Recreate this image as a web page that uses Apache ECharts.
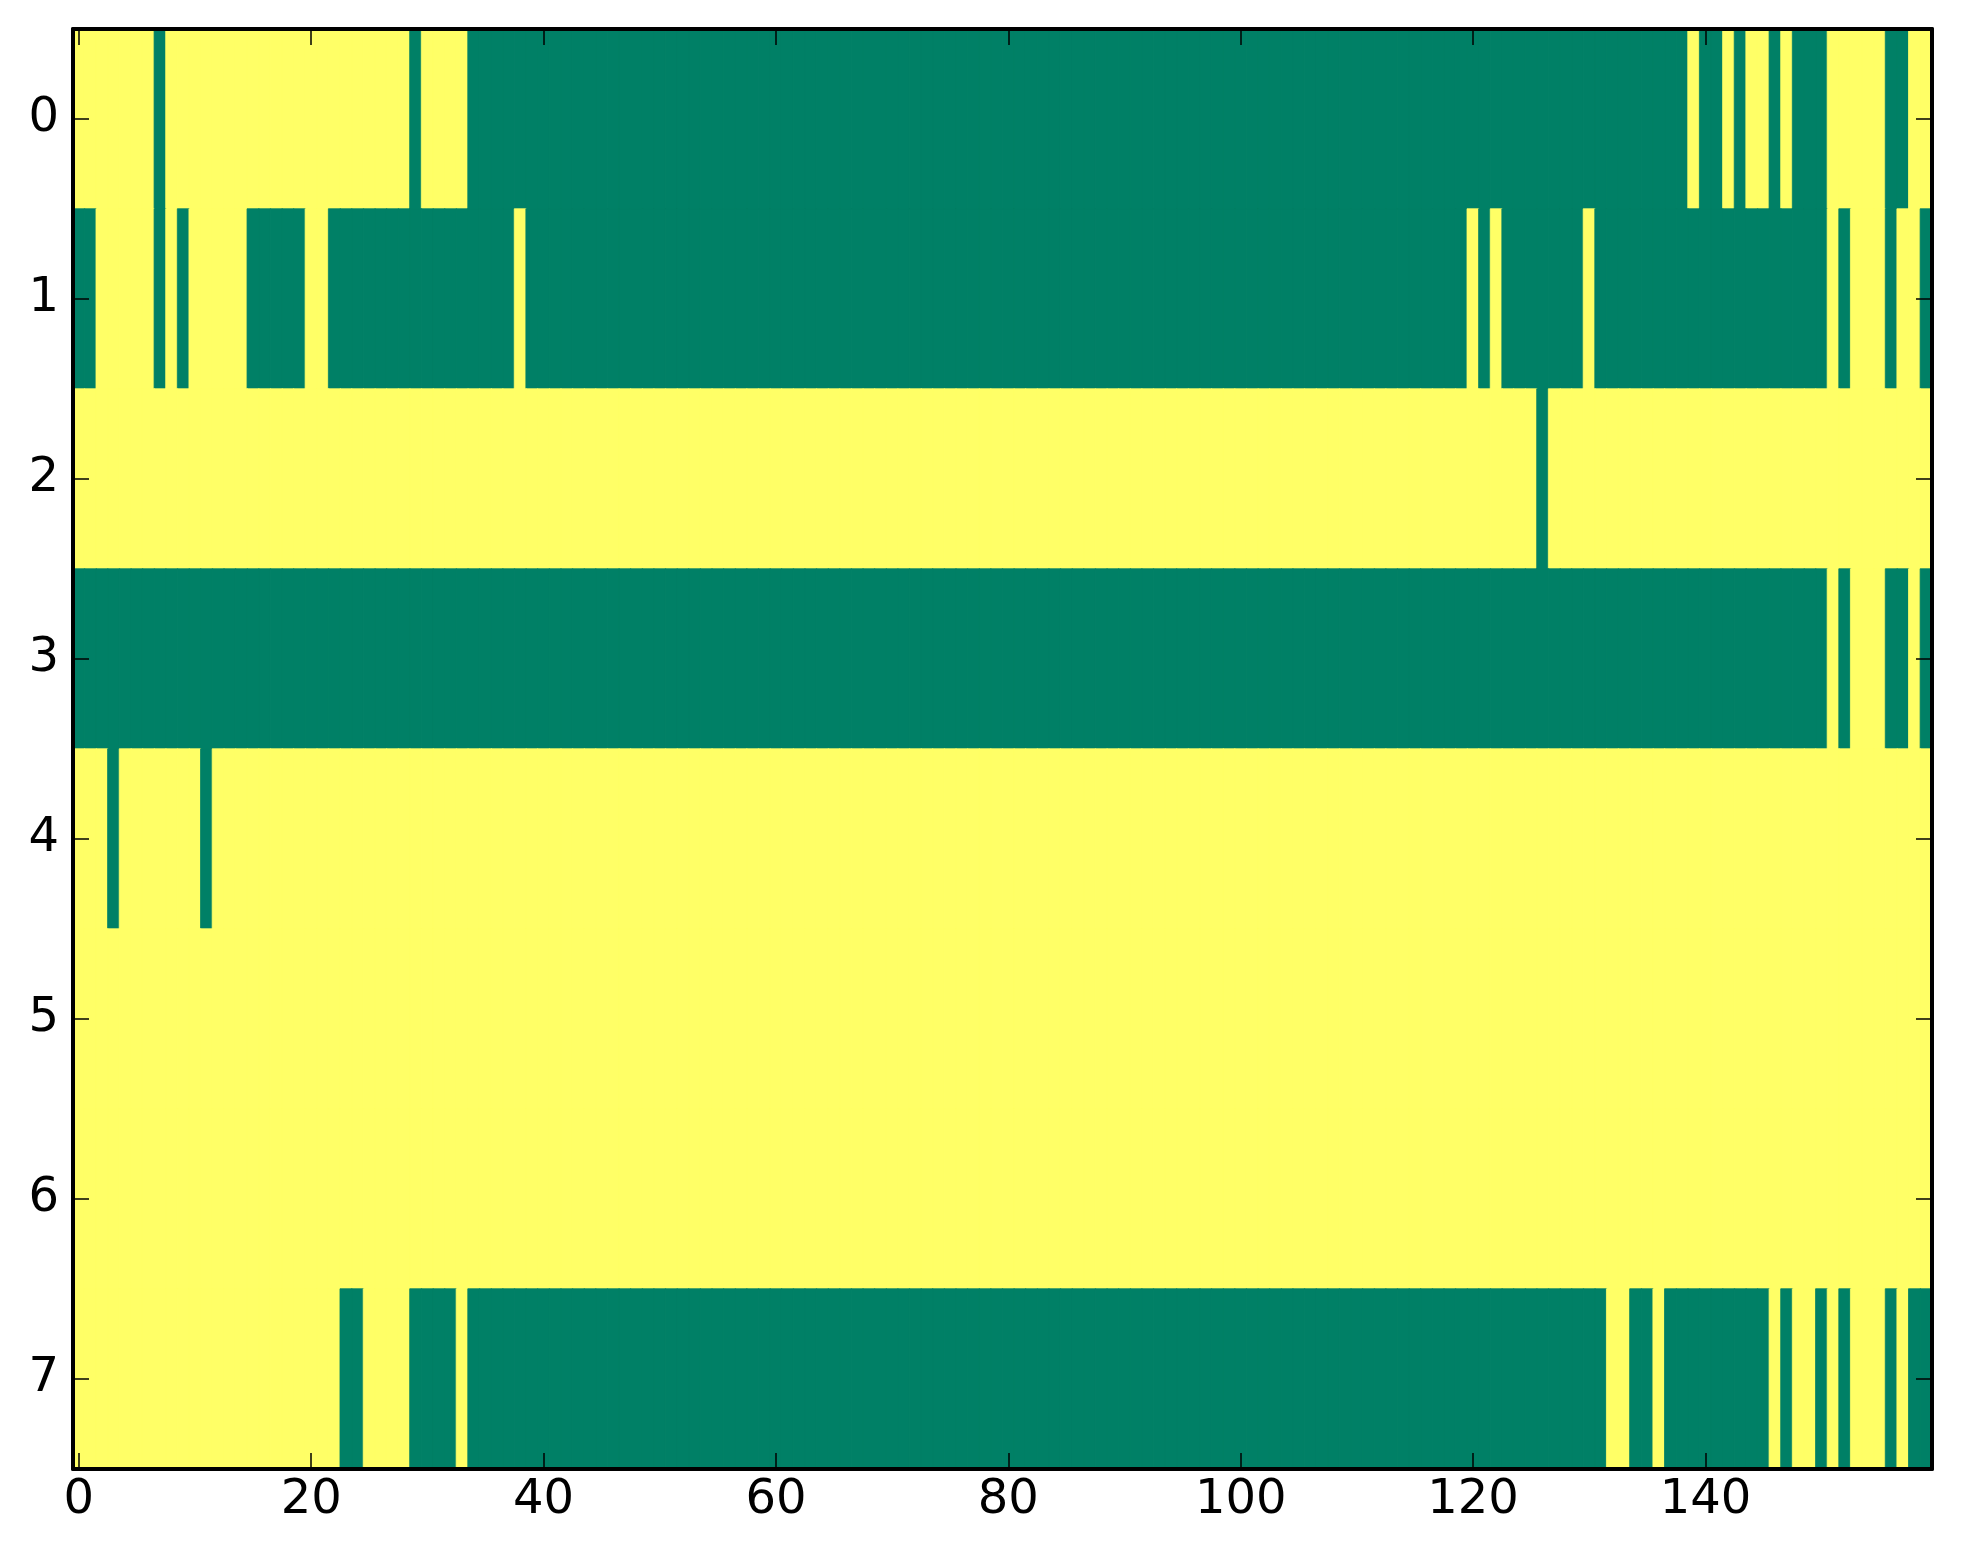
<!DOCTYPE html>
<html>
<head>
<meta charset="utf-8">
<script src="https://cdn.jsdelivr.net/npm/echarts@6/dist/echarts.min.js"></script>
<style>
  html, body { margin: 0; padding: 0; background: #fff; }
  #chart { width: 1963px; height: 1564px; }
</style>
</head>
<body>
<div id="chart"></div>
<script>
// 1 = yellow, 0 = green ; 160 columns per row
var row0 = [1,1,1,1,1,1,1,0,1,1, 1,1,1,1,1,1,1,1,1,1, 1,1,1,1,1,1,1,1,1,0, 1,1,1,1,0,0,0,0,0,0,
            0,0,0,0,0,0,0,0,0,0, 0,0,0,0,0,0,0,0,0,0, 0,0,0,0,0,0,0,0,0,0, 0,0,0,0,0,0,0,0,0,0,
            0,0,0,0,0,0,0,0,0,0, 0,0,0,0,0,0,0,0,0,0, 0,0,0,0,0,0,0,0,0,0, 0,0,0,0,0,0,0,0,0,0,
            0,0,0,0,0,0,0,0,0,0, 0,0,0,0,0,0,0,0,0,1, 0,0,1,0,1,1,0,1,0,0, 0,1,1,1,1,1,0,0,1,1];
var row1 = [0,0,1,1,1,1,1,0,1,0, 1,1,1,1,1,0,0,0,0,0, 1,1,0,0,0,0,0,0,0,0, 0,0,0,0,0,0,0,0,1,0,
            0,0,0,0,0,0,0,0,0,0, 0,0,0,0,0,0,0,0,0,0, 0,0,0,0,0,0,0,0,0,0, 0,0,0,0,0,0,0,0,0,0,
            0,0,0,0,0,0,0,0,0,0, 0,0,0,0,0,0,0,0,0,0, 0,0,0,0,0,0,0,0,0,0, 0,0,0,0,0,0,0,0,0,0,
            1,0,1,0,0,0,0,0,0,0, 1,0,0,0,0,0,0,0,0,0, 0,0,0,0,0,0,0,0,0,0, 0,1,0,1,1,1,0,1,1,0];
var row2 = [1,1,1,1,1,1,1,1,1,1, 1,1,1,1,1,1,1,1,1,1, 1,1,1,1,1,1,1,1,1,1, 1,1,1,1,1,1,1,1,1,1,
            1,1,1,1,1,1,1,1,1,1, 1,1,1,1,1,1,1,1,1,1, 1,1,1,1,1,1,1,1,1,1, 1,1,1,1,1,1,1,1,1,1,
            1,1,1,1,1,1,1,1,1,1, 1,1,1,1,1,1,1,1,1,1, 1,1,1,1,1,1,1,1,1,1, 1,1,1,1,1,1,1,1,1,1,
            1,1,1,1,1,1,0,1,1,1, 1,1,1,1,1,1,1,1,1,1, 1,1,1,1,1,1,1,1,1,1, 1,1,1,1,1,1,1,1,1,1];
var row3 = [0,0,0,0,0,0,0,0,0,0, 0,0,0,0,0,0,0,0,0,0, 0,0,0,0,0,0,0,0,0,0, 0,0,0,0,0,0,0,0,0,0,
            0,0,0,0,0,0,0,0,0,0, 0,0,0,0,0,0,0,0,0,0, 0,0,0,0,0,0,0,0,0,0, 0,0,0,0,0,0,0,0,0,0,
            0,0,0,0,0,0,0,0,0,0, 0,0,0,0,0,0,0,0,0,0, 0,0,0,0,0,0,0,0,0,0, 0,0,0,0,0,0,0,0,0,0,
            0,0,0,0,0,0,0,0,0,0, 0,0,0,0,0,0,0,0,0,0, 0,0,0,0,0,0,0,0,0,0, 0,1,0,1,1,1,0,0,1,0];
var row4 = [1,1,1,0,1,1,1,1,1,1, 1,0,1,1,1,1,1,1,1,1, 1,1,1,1,1,1,1,1,1,1, 1,1,1,1,1,1,1,1,1,1,
            1,1,1,1,1,1,1,1,1,1, 1,1,1,1,1,1,1,1,1,1, 1,1,1,1,1,1,1,1,1,1, 1,1,1,1,1,1,1,1,1,1,
            1,1,1,1,1,1,1,1,1,1, 1,1,1,1,1,1,1,1,1,1, 1,1,1,1,1,1,1,1,1,1, 1,1,1,1,1,1,1,1,1,1,
            1,1,1,1,1,1,1,1,1,1, 1,1,1,1,1,1,1,1,1,1, 1,1,1,1,1,1,1,1,1,1, 1,1,1,1,1,1,1,1,1,1];
var row5 = [1,1,1,1,1,1,1,1,1,1, 1,1,1,1,1,1,1,1,1,1, 1,1,1,1,1,1,1,1,1,1, 1,1,1,1,1,1,1,1,1,1,
            1,1,1,1,1,1,1,1,1,1, 1,1,1,1,1,1,1,1,1,1, 1,1,1,1,1,1,1,1,1,1, 1,1,1,1,1,1,1,1,1,1,
            1,1,1,1,1,1,1,1,1,1, 1,1,1,1,1,1,1,1,1,1, 1,1,1,1,1,1,1,1,1,1, 1,1,1,1,1,1,1,1,1,1,
            1,1,1,1,1,1,1,1,1,1, 1,1,1,1,1,1,1,1,1,1, 1,1,1,1,1,1,1,1,1,1, 1,1,1,1,1,1,1,1,1,1];
var row6 = [1,1,1,1,1,1,1,1,1,1, 1,1,1,1,1,1,1,1,1,1, 1,1,1,1,1,1,1,1,1,1, 1,1,1,1,1,1,1,1,1,1,
            1,1,1,1,1,1,1,1,1,1, 1,1,1,1,1,1,1,1,1,1, 1,1,1,1,1,1,1,1,1,1, 1,1,1,1,1,1,1,1,1,1,
            1,1,1,1,1,1,1,1,1,1, 1,1,1,1,1,1,1,1,1,1, 1,1,1,1,1,1,1,1,1,1, 1,1,1,1,1,1,1,1,1,1,
            1,1,1,1,1,1,1,1,1,1, 1,1,1,1,1,1,1,1,1,1, 1,1,1,1,1,1,1,1,1,1, 1,1,1,1,1,1,1,1,1,1];
var row7 = [1,1,1,1,1,1,1,1,1,1, 1,1,1,1,1,1,1,1,1,1, 1,1,1,0,0,1,1,1,1,0, 0,0,0,1,0,0,0,0,0,0,
            0,0,0,0,0,0,0,0,0,0, 0,0,0,0,0,0,0,0,0,0, 0,0,0,0,0,0,0,0,0,0, 0,0,0,0,0,0,0,0,0,0,
            0,0,0,0,0,0,0,0,0,0, 0,0,0,0,0,0,0,0,0,0, 0,0,0,0,0,0,0,0,0,0, 0,0,0,0,0,0,0,0,0,0,
            0,0,0,0,0,0,0,0,0,0, 0,0,1,1,0,0,1,0,0,0, 0,0,0,0,0,0,1,0,1,1, 0,1,0,1,1,1,0,1,0,0];
var rows = [row0, row1, row2, row3, row4, row5, row6, row7];

var xCats = [];
for (var i = 0; i < 160; i++) xCats.push(String(i));
var yCats = ['0', '1', '2', '3', '4', '5', '6', '7'];

// summer colormap ends
var colorLow = '#008066', colorHigh = '#ffff66';

var heatData = [];
for (var r = 0; r < rows.length; r++) {
    for (var c = 0; c < rows[r].length; c++) {
        var col = rows[r][c] ? colorHigh : colorLow;
        // thin border in the same colour hides the antialias seams between cells
        heatData.push({ value: [c, r, rows[r][c]], itemStyle: { color: col, borderColor: col, borderWidth: 0.8 } });
    }
}

var font = 'DejaVu Sans';
var every20 = function (idx) { return idx % 20 === 0; };
var lineStyle = { color: '#000', width: 4 };
var tickStyle = { color: '#000', width: 1.5 };

function xAx(pos, labels) {
    return {
        type: 'category', position: pos, data: xCats, zlevel: 1,
        axisLine: { show: true, onZero: false, lineStyle: lineStyle },
        axisTick: { show: true, inside: true, length: 16, interval: every20, alignWithLabel: true, lineStyle: tickStyle },
        axisLabel: { show: labels, interval: every20, fontFamily: font, fontSize: 48, color: '#000', margin: 8 },
        splitLine: { show: false }
    };
}
function yAx(pos, labels) {
    return {
        type: 'category', position: pos, data: yCats, inverse: true, zlevel: 1,
        axisLine: { show: true, onZero: false, lineStyle: lineStyle },
        axisTick: { show: true, inside: true, length: 16, interval: 0, alignWithLabel: true, lineStyle: tickStyle },
        axisLabel: { show: labels, interval: 0, fontFamily: font, fontSize: 48, color: '#000', margin: 14 },
        splitLine: { show: false }
    };
}

var myChart = echarts.init(document.getElementById('chart'), null, { renderer: 'canvas' });
var option = {
    backgroundColor: '#fff',
    animation: false,
    grid: { left: 73, right: 31, top: 29, bottom: 95 },
    xAxis: [xAx('bottom', true), xAx('top', false)],
    yAxis: [yAx('left', true), yAx('right', false)],
    series: [
        {
            type: 'heatmap',
            xAxisIndex: 0,
            yAxisIndex: 0,
            data: heatData,
            emphasis: { disabled: true }
        }
    ]
};
myChart.setOption(option);
</script>
</body>
</html>
